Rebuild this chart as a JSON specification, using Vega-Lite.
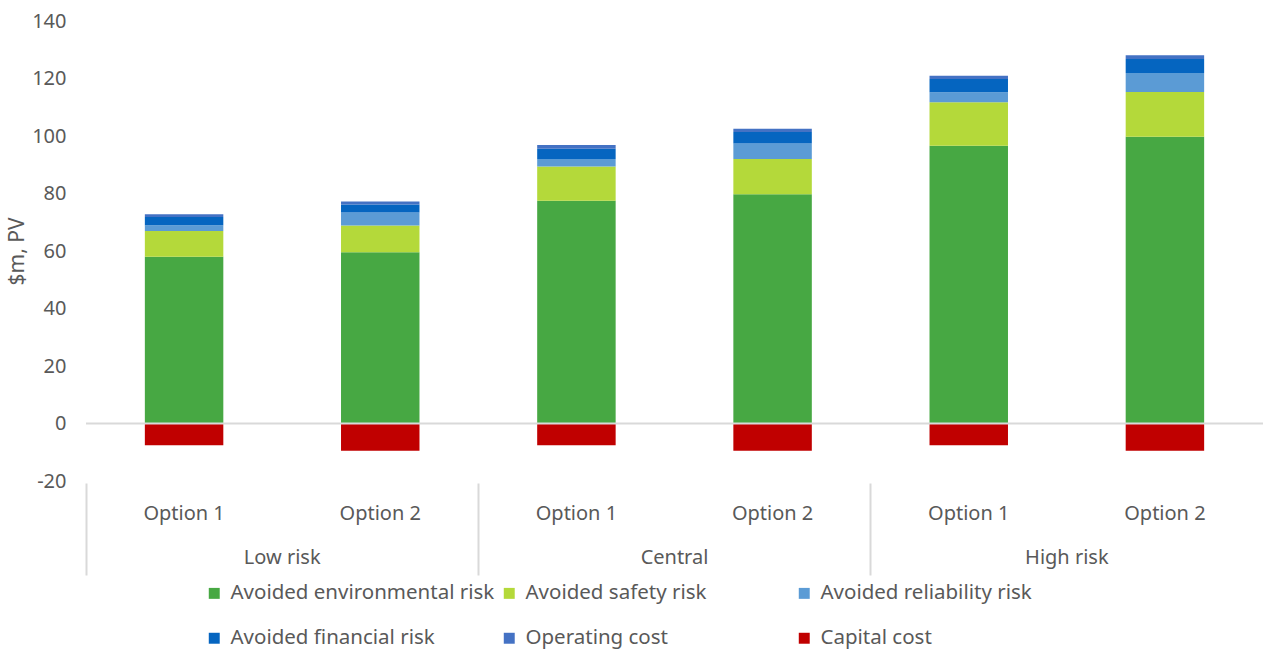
{
  "$schema": "https://vega.github.io/schema/vega-lite/v6.json",
  "width": 1177,
  "height": 460,
  "autosize": {"type": "none"},
  "padding": {"left": 86, "top": 21, "right": 0, "bottom": 168},
  "config": {"font": "Noto Sans", "view": {"stroke": null}},
  "data": {"values": [
    {"scenario": "Low risk", "option": "Option 1", "series": "Avoided environmental risk", "value": 58.0},
    {"scenario": "Low risk", "option": "Option 1", "series": "Avoided safety risk", "value": 9.0},
    {"scenario": "Low risk", "option": "Option 1", "series": "Avoided reliability risk", "value": 2.0},
    {"scenario": "Low risk", "option": "Option 1", "series": "Avoided financial risk", "value": 2.8},
    {"scenario": "Low risk", "option": "Option 1", "series": "Operating cost", "value": 1.0},
    {"scenario": "Low risk", "option": "Option 1", "series": "Capital cost", "value": -7.6},
    {"scenario": "Low risk", "option": "Option 2", "series": "Avoided environmental risk", "value": 59.6},
    {"scenario": "Low risk", "option": "Option 2", "series": "Avoided safety risk", "value": 9.3},
    {"scenario": "Low risk", "option": "Option 2", "series": "Avoided reliability risk", "value": 4.5},
    {"scenario": "Low risk", "option": "Option 2", "series": "Avoided financial risk", "value": 2.8},
    {"scenario": "Low risk", "option": "Option 2", "series": "Operating cost", "value": 1.0},
    {"scenario": "Low risk", "option": "Option 2", "series": "Capital cost", "value": -9.5},
    {"scenario": "Central", "option": "Option 1", "series": "Avoided environmental risk", "value": 77.5},
    {"scenario": "Central", "option": "Option 1", "series": "Avoided safety risk", "value": 11.9},
    {"scenario": "Central", "option": "Option 1", "series": "Avoided reliability risk", "value": 2.6},
    {"scenario": "Central", "option": "Option 1", "series": "Avoided financial risk", "value": 3.6},
    {"scenario": "Central", "option": "Option 1", "series": "Operating cost", "value": 1.3},
    {"scenario": "Central", "option": "Option 1", "series": "Capital cost", "value": -7.6},
    {"scenario": "Central", "option": "Option 2", "series": "Avoided environmental risk", "value": 79.7},
    {"scenario": "Central", "option": "Option 2", "series": "Avoided safety risk", "value": 12.3},
    {"scenario": "Central", "option": "Option 2", "series": "Avoided reliability risk", "value": 5.4},
    {"scenario": "Central", "option": "Option 2", "series": "Avoided financial risk", "value": 4.0},
    {"scenario": "Central", "option": "Option 2", "series": "Operating cost", "value": 1.1},
    {"scenario": "Central", "option": "Option 2", "series": "Capital cost", "value": -9.5},
    {"scenario": "High risk", "option": "Option 1", "series": "Avoided environmental risk", "value": 96.6},
    {"scenario": "High risk", "option": "Option 1", "series": "Avoided safety risk", "value": 15.1},
    {"scenario": "High risk", "option": "Option 1", "series": "Avoided reliability risk", "value": 3.5},
    {"scenario": "High risk", "option": "Option 1", "series": "Avoided financial risk", "value": 4.6},
    {"scenario": "High risk", "option": "Option 1", "series": "Operating cost", "value": 1.2},
    {"scenario": "High risk", "option": "Option 1", "series": "Capital cost", "value": -7.6},
    {"scenario": "High risk", "option": "Option 2", "series": "Avoided environmental risk", "value": 99.7},
    {"scenario": "High risk", "option": "Option 2", "series": "Avoided safety risk", "value": 15.6},
    {"scenario": "High risk", "option": "Option 2", "series": "Avoided reliability risk", "value": 6.6},
    {"scenario": "High risk", "option": "Option 2", "series": "Avoided financial risk", "value": 4.9},
    {"scenario": "High risk", "option": "Option 2", "series": "Operating cost", "value": 1.3},
    {"scenario": "High risk", "option": "Option 2", "series": "Capital cost", "value": -9.5}
  ]},
  "layer": [
    {
      "transform": [
        {"calculate": "datum.scenario + '|' + datum.option", "as": "key"},
        {"calculate": "indexof(['Avoided environmental risk','Avoided safety risk','Avoided reliability risk','Avoided financial risk','Operating cost','Capital cost'], datum.series)", "as": "ord"}
      ],
      "mark": {"type": "bar", "width": {"band": 0.4}},
      "encoding": {
        "x": {
          "field": "key", "type": "nominal", "sort": null,
          "scale": {"paddingInner": 0, "paddingOuter": 0},
          "axis": {
            "title": null,
            "labelExpr": "split(datum.value, '|')[1]",
            "labelFontSize": 20, "labelColor": "#595959", "labelAngle": 0,
            "domain": false,
            "ticks": true, "tickSize": 92, "tickColor": "#d9d9d9", "tickWidth": 2,
            "bandPosition": 0,
            "tickOpacity": {"condition": {"test": "indexof(datum.value, 'Option 1') >= 0", "value": 1}, "value": 0},
            "labelPadding": -72,
            "offset": 2
          }
        },
        "y": {
          "field": "value", "type": "quantitative", "stack": "zero",
          "scale": {"domain": [-20, 140], "nice": false},
          "axis": {
            "title": "$m, PV", "titleFontSize": 21, "titleFontWeight": "normal", "titleColor": "#595959",
            "titlePadding": 4,
            "labelFontSize": 20, "labelColor": "#595959",
            "labelExpr": "replace(datum.label, '\u2212', '-')",
            "domain": false, "ticks": false, "grid": false, "labelPadding": 20,
            "values": [-20, 0, 20, 40, 60, 80, 100, 120, 140]
          }
        },
        "color": {
          "field": "series", "type": "nominal",
          "scale": {
            "domain": ["Avoided environmental risk", "Avoided safety risk", "Avoided reliability risk", "Avoided financial risk", "Operating cost", "Capital cost"],
            "range": ["#47a843", "#b4d93a", "#5b9bd5", "#0565c0", "#4472c4", "#c00000"]
          },
          "legend": {
            "title": null, "orient": "none", "legendX": 118, "legendY": 562, "padding": 0,
            "direction": "horizontal", "columns": 3, "gridAlign": "all",
            "labelFontSize": 20.5, "labelColor": "#595959", "labelLimit": 400,
            "symbolType": "square", "symbolSize": 120, "symbolStrokeWidth": 0,
            "labelOffset": 6, "rowPadding": 24, "columnPadding": 4
          }
        },
        "order": {"field": "ord"}
      }
    },
    {
      "data": {"values": [{}]},
      "mark": {"type": "rule", "color": "#d9d9d9", "strokeWidth": 2},
      "encoding": {"y": {"datum": 0}}
    },
    {
      "data": {"values": [
        {"scenario": "Low risk", "option": "Option 2"},
        {"scenario": "Central", "option": "Option 2"},
        {"scenario": "High risk", "option": "Option 2"}
      ]},
      "transform": [{"calculate": "datum.scenario + '|' + datum.option", "as": "key"}],
      "mark": {"type": "text", "dy": 77, "fontSize": 20, "color": "#595959"},
      "encoding": {
        "x": {"field": "key", "type": "nominal", "sort": null, "bandPosition": 0},
        "y": {"datum": -20},
        "text": {"field": "scenario"}
      }
    }
  ]
}
